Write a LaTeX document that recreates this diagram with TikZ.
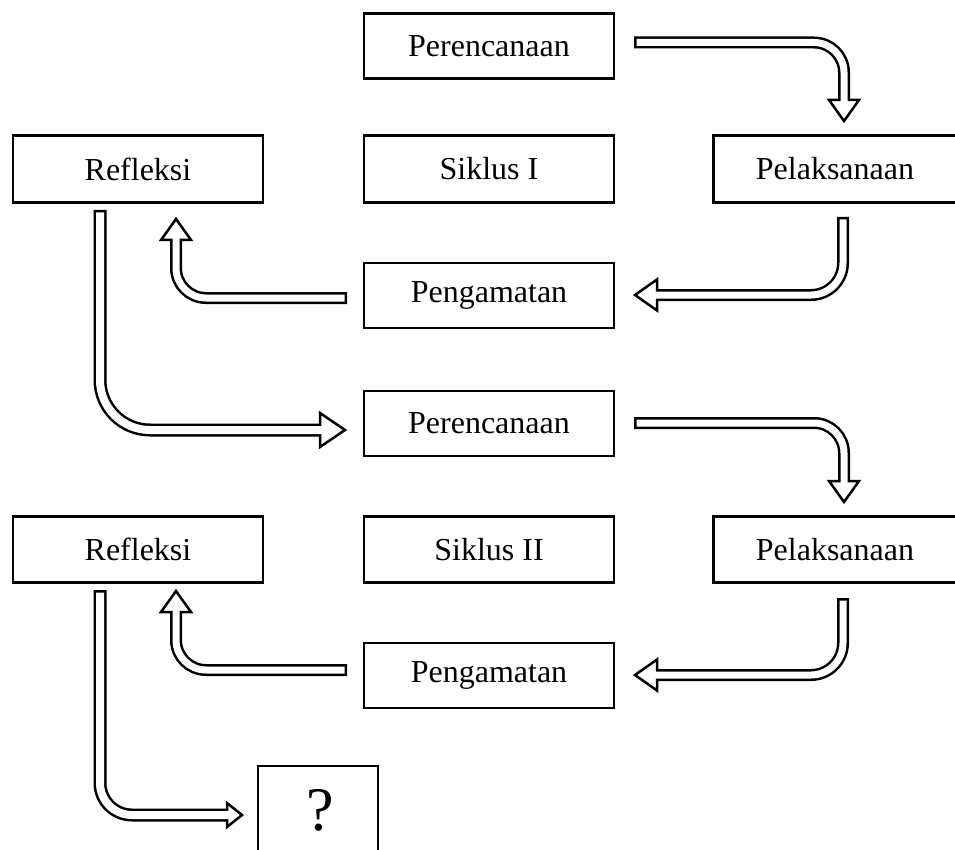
\documentclass[tikz,border=0pt]{standalone}
\usepackage{fontspec}
\setmainfont{Liberation Serif}
\usetikzlibrary{calc}
\tikzset{
  box/.style={draw, line width=2.5pt, minimum width=250pt, minimum height=65pt, inner sep=0pt, font=\fontsize{32}{38}\selectfont},
}
% #1 start, #2 corner, #3 head base, #4 tip, #5 half head width, #6 outer shaft width, #7 inner shaft width, #8 radius
\newcommand\harrow[8]{%
  \draw[line width=#6, rounded corners=#8] (#1) -- (#2) -- ($(#3)!3pt!(#4)$);
  \filldraw[fill=white, draw=black, line width=2.5pt, line join=miter] ($(#3)!#5!90:(#4)$) -- (#4) -- ($(#3)!#5!-90:(#4)$) -- cycle;
  \draw[white, line width=#7, rounded corners=#8, shorten <=2.5pt] (#1) -- (#2) -- ($(#3)!3pt!(#4)$);
}
\begin{document}
\begin{tikzpicture}[x=1pt,y=-1pt]
\path[use as bounding box, clip] (0,0) rectangle (955,850);
\fill[white] (0,0) rectangle (955,850);

\node[box] (per1) at (489,46) {Perencanaan};
\node[box, minimum height=67pt] (ref1) at (138,169) {Refleksi};
\node[box, minimum height=67pt] (sik1) at (489,169) {Siklus I};
\node[box, minimum width=243pt, minimum height=67pt] (pel1) at (835,169) {Pelaksanaan};
\node[box] (pen1) at (489,295.5) {Pengamatan};
\node[box] (per2) at (489,423.5) {Perencanaan};
\node[box, minimum height=66pt] (ref2) at (138,549.5) {Refleksi};
\node[box, minimum height=66pt] (sik2) at (489,549.5) {Siklus II};
\node[box, minimum width=243pt, minimum height=66pt] (pel2) at (835,549.5) {Pelaksanaan};
\node[box] (pen2) at (489,675.5) {Pengamatan};
\node[draw, line width=2.5pt, minimum width=120pt, minimum height=124pt, inner sep=0pt] (q) at (318,828) {};
\node[font=\fontsize{62}{70}\selectfont] (qm) at (320,810) {?};

% arrow 1
\coordinate (a1s) at (634,42.5); \coordinate (a1c) at (844,42.5);
\coordinate (a1b) at (844,100); \coordinate (a1t) at (844,121);
\harrow{a1s}{a1c}{a1b}{a1t}{15pt}{12pt}{7pt}{30pt}
% arrow 2
\coordinate (a2s) at (843,217); \coordinate (a2c) at (843,295);
\coordinate (a2b) at (657,295); \coordinate (a2t) at (635,295);
\harrow{a2s}{a2c}{a2b}{a2t}{15.5pt}{12pt}{7pt}{32pt}
% arrow 3
\coordinate (a3s) at (347,298); \coordinate (a3c) at (176,298);
\coordinate (a3b) at (176,240); \coordinate (a3t) at (176,219);
\harrow{a3s}{a3c}{a3b}{a3t}{15pt}{12pt}{7pt}{30pt}
% arrow 4
\coordinate (a4s) at (100,210); \coordinate (a4c) at (100,430);
\coordinate (a4b) at (320,430); \coordinate (a4t) at (345,430);
\harrow{a4s}{a4c}{a4b}{a4t}{17pt}{13pt}{8pt}{50pt}
% arrow 5
\coordinate (a5s) at (634,423); \coordinate (a5c) at (844,423);
\coordinate (a5b) at (844,481); \coordinate (a5t) at (844,502);
\harrow{a5s}{a5c}{a5b}{a5t}{15pt}{12pt}{7pt}{30pt}
% arrow 6
\coordinate (a6s) at (843,598); \coordinate (a6c) at (843,675);
\coordinate (a6b) at (657,675); \coordinate (a6t) at (635,675);
\harrow{a6s}{a6c}{a6b}{a6t}{15.5pt}{12pt}{7pt}{32pt}
% arrow 7
\coordinate (a7s) at (347,670); \coordinate (a7c) at (176,670);
\coordinate (a7b) at (176,612); \coordinate (a7t) at (176,591);
\harrow{a7s}{a7c}{a7b}{a7t}{15pt}{12pt}{7pt}{30pt}
% arrow 8
\coordinate (a8s) at (100,590); \coordinate (a8c) at (100,815);
\coordinate (a8b) at (227,815); \coordinate (a8t) at (242,815);
\harrow{a8s}{a8c}{a8b}{a8t}{12pt}{13pt}{8pt}{32pt}
\end{tikzpicture}
\end{document}
